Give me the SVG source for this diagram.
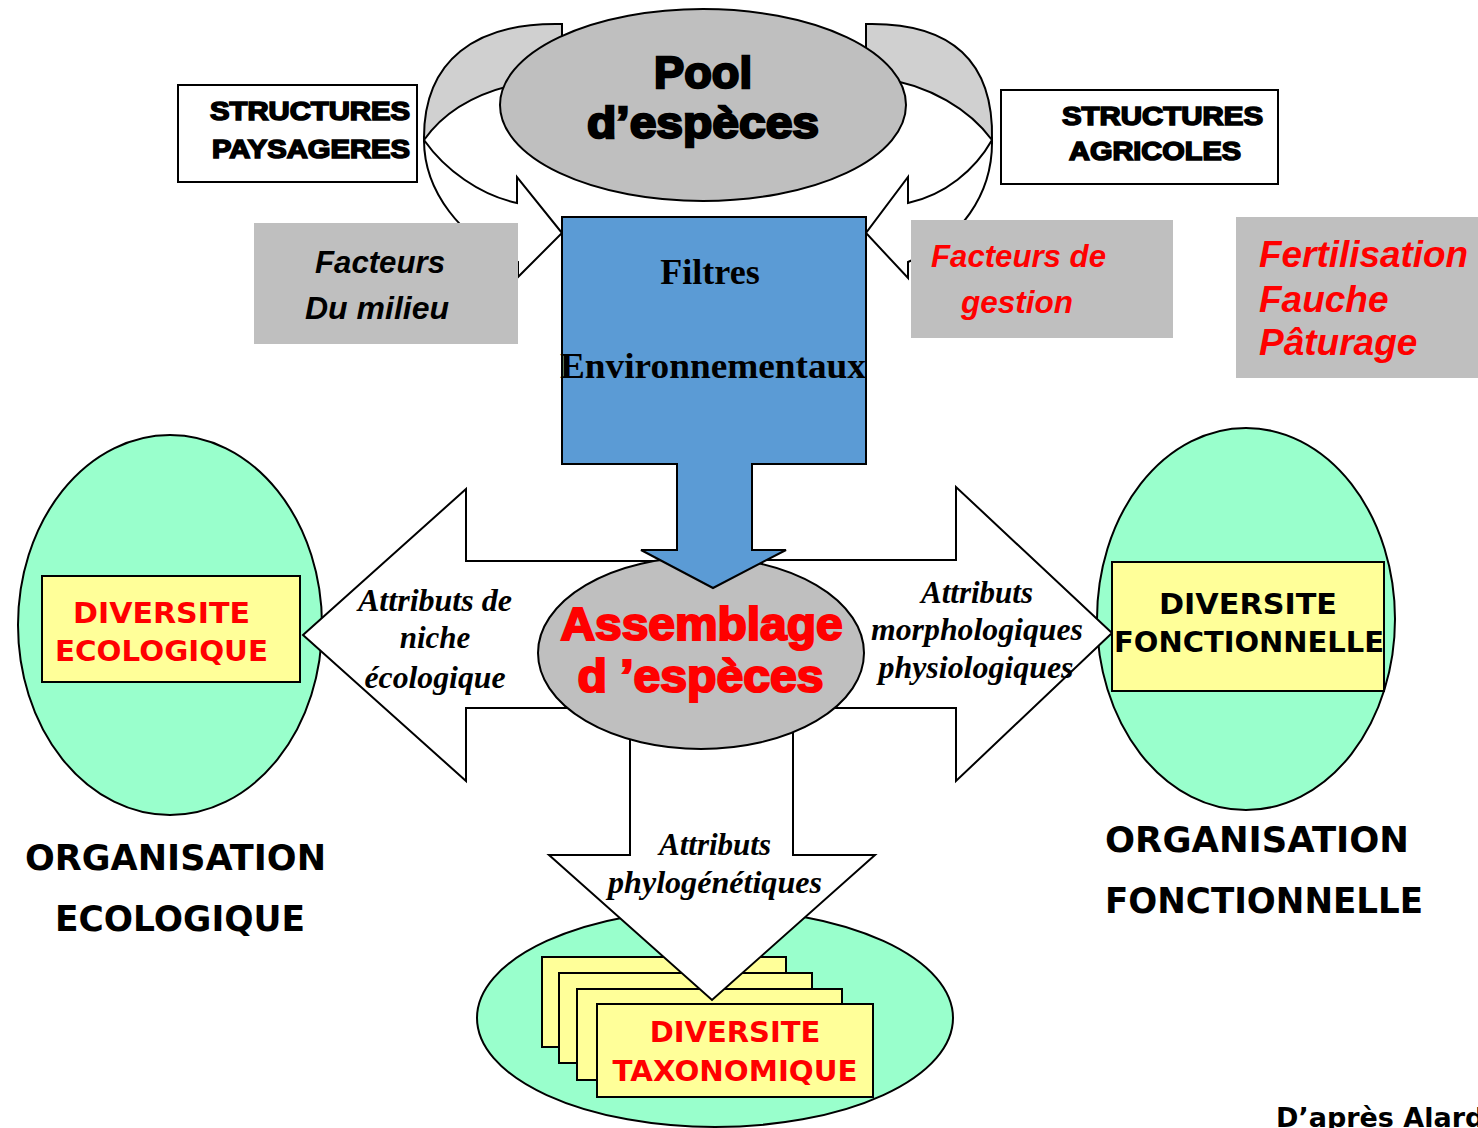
<svg xmlns="http://www.w3.org/2000/svg" width="1478" height="1128" viewBox="0 0 1478 1128">
<style>
.ln{stroke:#000;stroke-width:2;stroke-linejoin:miter}
.wh{fill:#fff}
.band{fill:#d0d0d0}
.grey{fill:#bfbfbf}
.mint{fill:#99ffcc}
.yel{fill:#ffff99}
.blk{font-family:"Liberation Sans",Arial,sans-serif;font-weight:bold}
.tah{font-family:"DejaVu Sans",Verdana,sans-serif;font-weight:bold}
.tnr{font-family:"Liberation Serif","Times New Roman",serif;font-weight:bold;font-style:italic}
.cal{font-family:"Liberation Sans",Arial,sans-serif;font-weight:bold;font-style:italic}
.red{fill:#ff0000}
.k{fill:#000}
</style>
<rect x="0" y="0" width="1478" height="1128" fill="#fff"/>

<g id="connectors">
  <!-- left curved arrow -->
  <path class="ln band" d="M562,24 C476,22 423,60 424,140 C445,110 480,88 540,80 L562,78 Z"/>
  <path class="ln wh" d="M424,140 C445,170 480,195 517,203 L517,177 L562,233 L518,277 L518,262 C460,240 424,190 424,140 Z"/>
  <!-- right curved arrow -->
  <path class="ln band" d="M866,24 C952,22 994,62 992,140 C970,110 930,85 880,78 L866,78 Z"/>
  <path class="ln wh" d="M992,140 C975,170 945,195 908,203 L908,177 L866,233 L908,278 L908,262 C960,240 993,195 992,140 Z"/>
</g>

<g id="pool">
  <ellipse class="ln grey" cx="703" cy="105" rx="203" ry="96" stroke-width="2.5"/>
  <text class="blk k" x="703" y="88" font-size="45" text-anchor="middle" stroke="#000" stroke-width="2.4" textLength="98" lengthAdjust="spacingAndGlyphs">Pool</text>
  <text class="blk k" x="703" y="138" font-size="45" text-anchor="middle" stroke="#000" stroke-width="2.4" textLength="232" lengthAdjust="spacingAndGlyphs">d’espèces</text>
</g>

<g id="structures-paysageres">
  <rect class="ln wh" x="178" y="85" width="239" height="97"/>
  <text class="blk k" x="210" y="120" font-size="26" stroke="#000" stroke-width="1.6" textLength="200" lengthAdjust="spacingAndGlyphs">STRUCTURES</text>
  <text class="blk k" x="212" y="158" font-size="26" stroke="#000" stroke-width="1.6" textLength="198" lengthAdjust="spacingAndGlyphs">PAYSAGERES</text>
</g>

<g id="structures-agricoles">
  <rect class="ln wh" x="1001" y="90" width="277" height="94"/>
  <text class="blk k" x="1062" y="125" font-size="26" stroke="#000" stroke-width="1.6" textLength="201" lengthAdjust="spacingAndGlyphs">STRUCTURES</text>
  <text class="blk k" x="1069" y="160" font-size="26" stroke="#000" stroke-width="1.6" textLength="172" lengthAdjust="spacingAndGlyphs">AGRICOLES</text>
</g>

<g id="diversite-ecologique">
  <ellipse class="ln mint" cx="170" cy="625" rx="152" ry="190"/>
</g>
<g id="diversite-fonctionnelle">
  <ellipse class="ln mint" cx="1246" cy="619" rx="149" ry="191"/>
</g>

<g id="diversite-taxonomique">
  <ellipse class="ln mint" cx="715" cy="1018" rx="238" ry="109"/>
  <rect class="ln yel" x="542" y="957" width="244" height="90"/>
  <rect class="ln yel" x="559" y="973" width="253" height="90"/>
  <rect class="ln yel" x="577" y="989" width="265" height="91"/>
  <rect class="ln yel" x="597" y="1004" width="276" height="93"/>
  <text class="tah red" x="735" y="1042" font-size="29" text-anchor="middle">DIVERSITE</text>
  <text class="tah red" x="735" y="1081" font-size="29" text-anchor="middle" textLength="245" lengthAdjust="spacingAndGlyphs">TAXONOMIQUE</text>
</g>

<g id="arrows">
  <path class="ln wh" d="M700,561 L466,561 L466,489 L303,635 L466,781 L466,708 L700,708 Z"/>
  <path class="ln wh" d="M700,560 L956,560 L956,487 L1112,633 L956,781 L956,708 L700,708 Z"/>
  <path class="ln wh" d="M630,700 L630,855 L549,855 L712,1000 L875,855 L793,855 L793,700 Z"/>
</g>

<g id="side-labels">
  <rect class="ln yel" x="42" y="576" width="258" height="106"/>
  <text class="tah red" x="161.5" y="623" font-size="29" text-anchor="middle" textLength="177" lengthAdjust="spacingAndGlyphs">DIVERSITE</text>
  <text class="tah red" x="161.5" y="661" font-size="29" text-anchor="middle" textLength="213" lengthAdjust="spacingAndGlyphs">ECOLOGIQUE</text>
  <rect class="ln yel" x="1112" y="562" width="272" height="129"/>
  <text class="tah k" x="1248" y="614" font-size="29" text-anchor="middle" textLength="178" lengthAdjust="spacingAndGlyphs">DIVERSITE</text>
  <text class="tah k" x="1249" y="652" font-size="29" text-anchor="middle" textLength="270" lengthAdjust="spacingAndGlyphs">FONCTIONNELLE</text>
</g>

<g id="assemblage">
  <ellipse class="ln grey" cx="701" cy="653" rx="163" ry="96"/>
  <text class="blk red" x="701.5" y="640" font-size="46" text-anchor="middle" stroke="#ff0000" stroke-width="2.2" textLength="282" lengthAdjust="spacingAndGlyphs">Assemblage</text>
  <text class="blk red" x="700.5" y="692" font-size="46" text-anchor="middle" stroke="#ff0000" stroke-width="2.2" textLength="246" lengthAdjust="spacingAndGlyphs">d ’espèces</text>
</g>

<g id="filtres">
  <path class="ln" fill="#5b9bd5" d="M562,217 L866,217 L866,464 L752,464 L752,550 L786,550 L713,588 L641,550 L677,550 L677,464 L562,464 Z"/>
  <text x="710" y="284" font-size="36" text-anchor="middle" font-family="'Liberation Serif','Times New Roman',serif" font-weight="bold" fill="#000">Filtres</text>
  <text x="713" y="378" font-size="36" text-anchor="middle" font-family="'Liberation Serif','Times New Roman',serif" font-weight="bold" fill="#000" textLength="306" lengthAdjust="spacingAndGlyphs">Environnementaux</text>
</g>

<g id="facteurs-milieu">
  <rect class="grey" x="254" y="223" width="264" height="121"/>
  <text class="cal k" x="380" y="273" font-size="31" text-anchor="middle" textLength="130" lengthAdjust="spacingAndGlyphs">Facteurs</text>
  <text class="cal k" x="377" y="319" font-size="31" text-anchor="middle" textLength="144" lengthAdjust="spacingAndGlyphs">Du milieu</text>
</g>

<g id="facteurs-gestion">
  <rect class="grey" x="911" y="220" width="262" height="118"/>
  <text class="cal red" x="931" y="267" font-size="31" textLength="175" lengthAdjust="spacingAndGlyphs">Facteurs de</text>
  <text class="cal red" x="961" y="313" font-size="31" textLength="112" lengthAdjust="spacingAndGlyphs">gestion</text>
</g>

<g id="pratiques">
  <rect class="grey" x="1236" y="217" width="242" height="161"/>
  <text class="cal red" x="1259" y="267" font-size="37" textLength="209" lengthAdjust="spacingAndGlyphs">Fertilisation</text>
  <text class="cal red" x="1259" y="312" font-size="37">Fauche</text>
  <text class="cal red" x="1259" y="355" font-size="37">Pâturage</text>
</g>

<g id="arrow-labels">
  <text class="tnr k" x="435" y="611" font-size="31" text-anchor="middle" textLength="154" lengthAdjust="spacingAndGlyphs">Attributs de</text>
  <text class="tnr k" x="435" y="648" font-size="31" text-anchor="middle">niche</text>
  <text class="tnr k" x="435" y="688" font-size="31" text-anchor="middle" textLength="141" lengthAdjust="spacingAndGlyphs">écologique</text>
  <text class="tnr k" x="977" y="603" font-size="31" text-anchor="middle">Attributs</text>
  <text class="tnr k" x="977" y="640" font-size="31" text-anchor="middle" textLength="212" lengthAdjust="spacingAndGlyphs">morphologiques</text>
  <text class="tnr k" x="976" y="678" font-size="31" text-anchor="middle" textLength="195" lengthAdjust="spacingAndGlyphs">physiologiques</text>
  <text class="tnr k" x="715" y="855" font-size="31" text-anchor="middle">Attributs</text>
  <text class="tnr k" x="715" y="893" font-size="31" text-anchor="middle" textLength="214" lengthAdjust="spacingAndGlyphs">phylogénétiques</text>
</g>

<g id="organisation">
  <text class="tah k" x="25" y="870" font-size="35" textLength="301" lengthAdjust="spacingAndGlyphs">ORGANISATION</text>
  <text class="tah k" x="55" y="931" font-size="35" textLength="250" lengthAdjust="spacingAndGlyphs">ECOLOGIQUE</text>
  <text class="tah k" x="1105" y="852" font-size="35" textLength="304" lengthAdjust="spacingAndGlyphs">ORGANISATION</text>
  <text class="tah k" x="1105" y="913" font-size="35" textLength="318" lengthAdjust="spacingAndGlyphs">FONCTIONNELLE</text>
  <text class="tah k" x="1276" y="1127" font-size="27">D’après Alard</text>
</g>
</svg>
